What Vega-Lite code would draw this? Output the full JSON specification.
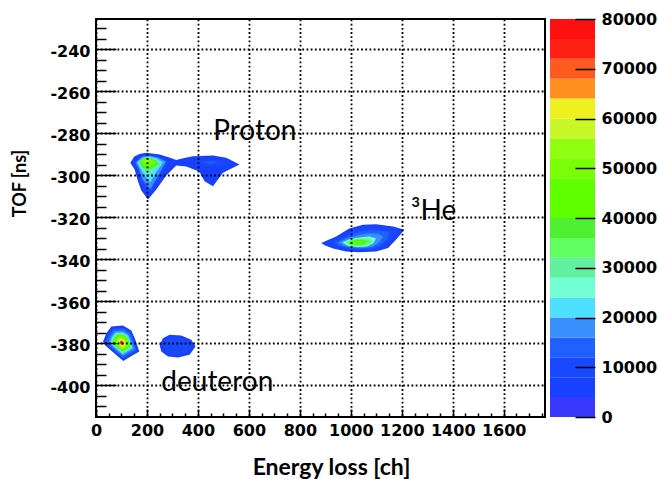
{
"$schema":"https://vega.github.io/schema/vega-lite/v6.json",
"padding":{"left":10,"top":11,"right":0,"bottom":0},
"background":"white",
"config":{"view":{"stroke":null}},
"datasets":{
"contours":[
{"p":"P1","z":6000,"i":1,"x":134.6,"y":-293.95},{"p":"P1","z":6000,"i":2,"x":150.3,"y":-290.95},{"p":"P1","z":6000,"i":3,"x":171.1,"y":-289.76},{"p":"P1","z":6000,"i":4,"x":197.4,"y":-289.19},{"p":"P1","z":6000,"i":5,"x":249.5,"y":-290.0},{"p":"P1","z":6000,"i":6,"x":287.6,"y":-291.43},{"p":"P1","z":6000,"i":7,"x":315.0,"y":-292.62},{"p":"P1","z":6000,"i":8,"x":346.4,"y":-291.67},{"p":"P1","z":6000,"i":9,"x":380.5,"y":-290.81},{"p":"P1","z":6000,"i":10,"x":458.9,"y":-290.48},{"p":"P1","z":6000,"i":11,"x":511.1,"y":-291.57},{"p":"P1","z":6000,"i":12,"x":563.3,"y":-294.76},{"p":"P1","z":6000,"i":13,"x":498.2,"y":-298.71},{"p":"P1","z":6000,"i":14,"x":458.9,"y":-305.1},{"p":"P1","z":6000,"i":15,"x":426.0,"y":-302.71},{"p":"P1","z":6000,"i":16,"x":405.2,"y":-298.1},{"p":"P1","z":6000,"i":17,"x":354.2,"y":-295.71},{"p":"P1","z":6000,"i":18,"x":315.0,"y":-295.24},{"p":"P1","z":6000,"i":19,"x":275.8,"y":-300.0},{"p":"P1","z":6000,"i":20,"x":236.6,"y":-306.67},{"p":"P1","z":6000,"i":21,"x":204.0,"y":-311.43},{"p":"P1","z":6000,"i":22,"x":177.8,"y":-307.14},{"p":"P1","z":6000,"i":23,"x":164.8,"y":-302.71},{"p":"P1","z":6000,"i":24,"x":151.5,"y":-297.14},
{"p":"H1","z":6000,"i":1,"x":883.7,"y":-332.14},{"p":"H1","z":6000,"i":2,"x":915.0,"y":-330.48},{"p":"H1","z":6000,"i":3,"x":942.5,"y":-329.05},{"p":"H1","z":6000,"i":4,"x":993.5,"y":-325.24},{"p":"H1","z":6000,"i":5,"x":1048.4,"y":-323.48},{"p":"H1","z":6000,"i":6,"x":1099.3,"y":-323.19},{"p":"H1","z":6000,"i":7,"x":1166.0,"y":-324.29},{"p":"H1","z":6000,"i":8,"x":1210.3,"y":-325.86},{"p":"H1","z":6000,"i":9,"x":1177.8,"y":-330.48},{"p":"H1","z":6000,"i":10,"x":1146.4,"y":-334.52},{"p":"H1","z":6000,"i":11,"x":1099.3,"y":-336.19},{"p":"H1","z":6000,"i":12,"x":1032.7,"y":-336.52},{"p":"H1","z":6000,"i":13,"x":981.7,"y":-336.19},{"p":"H1","z":6000,"i":14,"x":930.7,"y":-334.76},{"p":"H1","z":6000,"i":15,"x":899.3,"y":-333.33},
{"p":"D1","z":6000,"i":1,"x":27.6,"y":-379.05},{"p":"D1","z":6000,"i":2,"x":40.5,"y":-375.24},{"p":"D1","z":6000,"i":3,"x":60.1,"y":-371.9},{"p":"D1","z":6000,"i":4,"x":106.0,"y":-371.43},{"p":"D1","z":6000,"i":5,"x":138.5,"y":-373.81},{"p":"D1","z":6000,"i":6,"x":154.2,"y":-378.1},{"p":"D1","z":6000,"i":7,"x":169.9,"y":-383.81},{"p":"D1","z":6000,"i":8,"x":142.5,"y":-385.71},{"p":"D1","z":6000,"i":9,"x":107.2,"y":-388.33},{"p":"D1","z":6000,"i":10,"x":68.0,"y":-384.29},{"p":"D1","z":6000,"i":11,"x":36.6,"y":-380.95},
{"p":"R1","z":6000,"i":1,"x":249.5,"y":-380.62},{"p":"R1","z":6000,"i":2,"x":262.9,"y":-377.48},{"p":"R1","z":6000,"i":3,"x":288.7,"y":-375.86},{"p":"R1","z":6000,"i":4,"x":334.6,"y":-376.19},{"p":"R1","z":6000,"i":5,"x":373.8,"y":-378.24},{"p":"R1","z":6000,"i":6,"x":390.7,"y":-381.43},{"p":"R1","z":6000,"i":7,"x":367.2,"y":-385.38},{"p":"R1","z":6000,"i":8,"x":321.7,"y":-386.67},{"p":"R1","z":6000,"i":9,"x":282.5,"y":-386.19},{"p":"R1","z":6000,"i":10,"x":256.2,"y":-383.81},
{"p":"P2","z":10000,"i":1,"x":146.4,"y":-293.81},{"p":"P2","z":10000,"i":2,"x":177.8,"y":-290.48},{"p":"P2","z":10000,"i":3,"x":205.2,"y":-290.0},{"p":"P2","z":10000,"i":4,"x":248.4,"y":-290.95},{"p":"P2","z":10000,"i":5,"x":287.6,"y":-292.86},{"p":"P2","z":10000,"i":6,"x":256.2,"y":-300.95},{"p":"P2","z":10000,"i":7,"x":209.1,"y":-309.05},{"p":"P2","z":10000,"i":8,"x":173.8,"y":-302.86},{"p":"P2","z":10000,"i":9,"x":158.2,"y":-296.19},
{"p":"PR2","z":10000,"i":1,"x":381.7,"y":-293.33},{"p":"PR2","z":10000,"i":2,"x":432.7,"y":-292.14},{"p":"PR2","z":10000,"i":3,"x":499.3,"y":-292.86},{"p":"PR2","z":10000,"i":4,"x":530.7,"y":-294.29},{"p":"PR2","z":10000,"i":5,"x":460.1,"y":-295.71},{"p":"PR2","z":10000,"i":6,"x":405.2,"y":-295.24},
{"p":"H2","z":10000,"i":1,"x":907.2,"y":-332.14},{"p":"H2","z":10000,"i":2,"x":954.2,"y":-329.52},{"p":"H2","z":10000,"i":3,"x":1001.3,"y":-326.19},{"p":"H2","z":10000,"i":4,"x":1048.4,"y":-324.76},{"p":"H2","z":10000,"i":5,"x":1103.3,"y":-324.52},{"p":"H2","z":10000,"i":6,"x":1158.2,"y":-325.24},{"p":"H2","z":10000,"i":7,"x":1189.5,"y":-326.43},{"p":"H2","z":10000,"i":8,"x":1162.1,"y":-330.48},{"p":"H2","z":10000,"i":9,"x":1130.7,"y":-333.81},{"p":"H2","z":10000,"i":10,"x":1087.6,"y":-335.48},{"p":"H2","z":10000,"i":11,"x":1032.7,"y":-335.71},{"p":"H2","z":10000,"i":12,"x":981.7,"y":-335.24},{"p":"H2","z":10000,"i":13,"x":938.6,"y":-334.05},
{"p":"R2","z":10000,"i":1,"x":263.4,"y":-380.78},{"p":"R2","z":10000,"i":2,"x":274.1,"y":-378.27},{"p":"R2","z":10000,"i":3,"x":294.7,"y":-376.97},{"p":"R2","z":10000,"i":4,"x":331.5,"y":-377.24},{"p":"R2","z":10000,"i":5,"x":362.8,"y":-378.88},{"p":"R2","z":10000,"i":6,"x":376.3,"y":-381.43},{"p":"R2","z":10000,"i":7,"x":357.5,"y":-384.59},{"p":"R2","z":10000,"i":8,"x":321.1,"y":-385.62},{"p":"R2","z":10000,"i":9,"x":289.8,"y":-385.24},{"p":"R2","z":10000,"i":10,"x":268.7,"y":-383.33},
{"p":"PR3","z":14000,"i":1,"x":420.9,"y":-293.81},{"p":"PR3","z":14000,"i":2,"x":448.4,"y":-293.1},{"p":"PR3","z":14000,"i":3,"x":475.8,"y":-293.57},{"p":"PR3","z":14000,"i":4,"x":448.4,"y":-294.52},
{"p":"H3","z":14000,"i":1,"x":934.6,"y":-332.14},{"p":"H3","z":14000,"i":2,"x":969.9,"y":-330.0},{"p":"H3","z":14000,"i":3,"x":1009.2,"y":-327.62},{"p":"H3","z":14000,"i":4,"x":1052.3,"y":-326.19},{"p":"H3","z":14000,"i":5,"x":1103.3,"y":-326.19},{"p":"H3","z":14000,"i":6,"x":1150.3,"y":-326.67},{"p":"H3","z":14000,"i":7,"x":1142.5,"y":-330.48},{"p":"H3","z":14000,"i":8,"x":1115.0,"y":-333.33},{"p":"H3","z":14000,"i":9,"x":1079.7,"y":-334.76},{"p":"H3","z":14000,"i":10,"x":1032.7,"y":-335.0},{"p":"H3","z":14000,"i":11,"x":985.6,"y":-334.52},{"p":"H3","z":14000,"i":12,"x":954.2,"y":-333.57},
{"p":"D2","z":14000,"i":1,"x":38.7,"y":-379.16},{"p":"D2","z":14000,"i":2,"x":49.6,"y":-375.92},{"p":"D2","z":14000,"i":3,"x":66.3,"y":-373.08},{"p":"D2","z":14000,"i":4,"x":105.3,"y":-372.68},{"p":"D2","z":14000,"i":5,"x":132.9,"y":-374.7},{"p":"D2","z":14000,"i":6,"x":146.3,"y":-378.35},{"p":"D2","z":14000,"i":7,"x":159.6,"y":-383.2},{"p":"D2","z":14000,"i":8,"x":136.3,"y":-384.82},{"p":"D2","z":14000,"i":9,"x":106.3,"y":-387.04},{"p":"D2","z":14000,"i":10,"x":73.0,"y":-383.61},{"p":"D2","z":14000,"i":11,"x":46.3,"y":-380.77},
{"p":"P3","z":18000,"i":1,"x":154.2,"y":-293.81},{"p":"P3","z":18000,"i":2,"x":181.7,"y":-290.95},{"p":"P3","z":18000,"i":3,"x":205.2,"y":-290.48},{"p":"P3","z":18000,"i":4,"x":244.4,"y":-291.43},{"p":"P3","z":18000,"i":5,"x":275.8,"y":-293.33},{"p":"P3","z":18000,"i":6,"x":244.4,"y":-300.0},{"p":"P3","z":18000,"i":7,"x":213.1,"y":-306.67},{"p":"P3","z":18000,"i":8,"x":181.7,"y":-301.9},{"p":"P3","z":18000,"i":9,"x":166.0,"y":-296.19},
{"p":"H4","z":18000,"i":1,"x":950.3,"y":-331.9},{"p":"H4","z":18000,"i":2,"x":985.6,"y":-330.0},{"p":"H4","z":18000,"i":3,"x":1024.8,"y":-328.57},{"p":"H4","z":18000,"i":4,"x":1064.0,"y":-327.62},{"p":"H4","z":18000,"i":5,"x":1103.3,"y":-327.62},{"p":"H4","z":18000,"i":6,"x":1126.8,"y":-329.05},{"p":"H4","z":18000,"i":7,"x":1111.1,"y":-331.9},{"p":"H4","z":18000,"i":8,"x":1087.6,"y":-333.81},{"p":"H4","z":18000,"i":9,"x":1048.4,"y":-334.52},{"p":"H4","z":18000,"i":10,"x":1001.3,"y":-334.29},{"p":"H4","z":18000,"i":11,"x":969.9,"y":-333.33},
{"p":"D3","z":18000,"i":1,"x":48.2,"y":-379.25},{"p":"D3","z":18000,"i":2,"x":57.5,"y":-376.51},{"p":"D3","z":18000,"i":3,"x":71.6,"y":-374.1},{"p":"D3","z":18000,"i":4,"x":104.7,"y":-373.76},{"p":"D3","z":18000,"i":5,"x":128.1,"y":-375.48},{"p":"D3","z":18000,"i":6,"x":139.4,"y":-378.56},{"p":"D3","z":18000,"i":7,"x":150.7,"y":-382.68},{"p":"D3","z":18000,"i":8,"x":131.0,"y":-384.04},{"p":"D3","z":18000,"i":9,"x":105.5,"y":-385.93},{"p":"D3","z":18000,"i":10,"x":77.3,"y":-383.02},{"p":"D3","z":18000,"i":11,"x":54.7,"y":-380.62},
{"p":"P4","z":22000,"i":1,"x":162.1,"y":-293.81},{"p":"P4","z":22000,"i":2,"x":185.6,"y":-291.43},{"p":"P4","z":22000,"i":3,"x":209.1,"y":-290.95},{"p":"P4","z":22000,"i":4,"x":240.5,"y":-291.9},{"p":"P4","z":22000,"i":5,"x":264.0,"y":-293.81},{"p":"P4","z":22000,"i":6,"x":232.7,"y":-299.05},{"p":"P4","z":22000,"i":7,"x":213.1,"y":-303.33},{"p":"P4","z":22000,"i":8,"x":189.5,"y":-300.0},{"p":"P4","z":22000,"i":9,"x":173.8,"y":-296.67},
{"p":"D4","z":22000,"i":1,"x":55.6,"y":-379.32},{"p":"D4","z":22000,"i":2,"x":63.6,"y":-376.96},{"p":"D4","z":22000,"i":3,"x":75.8,"y":-374.89},{"p":"D4","z":22000,"i":4,"x":104.2,"y":-374.6},{"p":"D4","z":22000,"i":5,"x":124.4,"y":-376.07},{"p":"D4","z":22000,"i":6,"x":134.1,"y":-378.73},{"p":"D4","z":22000,"i":7,"x":143.8,"y":-382.27},{"p":"D4","z":22000,"i":8,"x":126.8,"y":-383.45},{"p":"D4","z":22000,"i":9,"x":105.0,"y":-385.07},{"p":"D4","z":22000,"i":10,"x":80.7,"y":-382.57},{"p":"D4","z":22000,"i":11,"x":61.2,"y":-380.5},
{"p":"H5","z":26000,"i":1,"x":966.0,"y":-331.9},{"p":"H5","z":26000,"i":2,"x":997.4,"y":-330.24},{"p":"H5","z":26000,"i":3,"x":1032.7,"y":-329.52},{"p":"H5","z":26000,"i":4,"x":1071.9,"y":-329.05},{"p":"H5","z":26000,"i":5,"x":1099.3,"y":-330.0},{"p":"H5","z":26000,"i":6,"x":1087.6,"y":-332.38},{"p":"H5","z":26000,"i":7,"x":1064.0,"y":-333.81},{"p":"H5","z":26000,"i":8,"x":1024.8,"y":-334.05},{"p":"H5","z":26000,"i":9,"x":989.5,"y":-333.57},
{"p":"P5","z":30000,"i":1,"x":166.0,"y":-293.33},{"p":"P5","z":30000,"i":2,"x":189.5,"y":-291.43},{"p":"P5","z":30000,"i":3,"x":213.1,"y":-291.43},{"p":"P5","z":30000,"i":4,"x":236.6,"y":-292.38},{"p":"P5","z":30000,"i":5,"x":252.3,"y":-294.29},{"p":"P5","z":30000,"i":6,"x":224.8,"y":-297.62},{"p":"P5","z":30000,"i":7,"x":205.2,"y":-299.52},{"p":"P5","z":30000,"i":8,"x":185.6,"y":-297.62},{"p":"P5","z":30000,"i":9,"x":173.8,"y":-295.71},
{"p":"H6","z":34000,"i":1,"x":977.8,"y":-331.9},{"p":"H6","z":34000,"i":2,"x":1005.2,"y":-330.48},{"p":"H6","z":34000,"i":3,"x":1040.5,"y":-330.0},{"p":"H6","z":34000,"i":4,"x":1071.9,"y":-330.24},{"p":"H6","z":34000,"i":5,"x":1083.6,"y":-331.43},{"p":"H6","z":34000,"i":6,"x":1064.0,"y":-333.1},{"p":"H6","z":34000,"i":7,"x":1028.8,"y":-333.57},{"p":"H6","z":34000,"i":8,"x":997.4,"y":-333.33},
{"p":"D5","z":34000,"i":1,"x":60.8,"y":-379.37},{"p":"D5","z":34000,"i":2,"x":67.9,"y":-377.27},{"p":"D5","z":34000,"i":3,"x":78.6,"y":-375.44},{"p":"D5","z":34000,"i":4,"x":103.9,"y":-375.18},{"p":"D5","z":34000,"i":5,"x":121.8,"y":-376.49},{"p":"D5","z":34000,"i":6,"x":130.4,"y":-378.85},{"p":"D5","z":34000,"i":7,"x":139.0,"y":-381.99},{"p":"D5","z":34000,"i":8,"x":124.0,"y":-383.03},{"p":"D5","z":34000,"i":9,"x":104.5,"y":-384.47},{"p":"D5","z":34000,"i":10,"x":83.0,"y":-382.25},{"p":"D5","z":34000,"i":11,"x":65.7,"y":-380.41},
{"p":"P6","z":38000,"i":1,"x":169.9,"y":-293.33},{"p":"P6","z":38000,"i":2,"x":193.5,"y":-291.43},{"p":"P6","z":38000,"i":3,"x":217.0,"y":-291.9},{"p":"P6","z":38000,"i":4,"x":236.6,"y":-292.86},{"p":"P6","z":38000,"i":5,"x":244.4,"y":-294.76},{"p":"P6","z":38000,"i":6,"x":220.9,"y":-296.67},{"p":"P6","z":38000,"i":7,"x":201.3,"y":-297.14},{"p":"P6","z":38000,"i":8,"x":181.7,"y":-296.19},
{"p":"H7","z":38000,"i":1,"x":989.5,"y":-331.9},{"p":"H7","z":38000,"i":2,"x":1013.0,"y":-330.71},{"p":"H7","z":38000,"i":3,"x":1044.4,"y":-330.48},{"p":"H7","z":38000,"i":4,"x":1064.0,"y":-330.95},{"p":"H7","z":38000,"i":5,"x":1056.2,"y":-332.62},{"p":"H7","z":38000,"i":6,"x":1028.8,"y":-333.1},{"p":"H7","z":38000,"i":7,"x":1001.3,"y":-332.86},
{"p":"D6","z":38000,"i":1,"x":65.9,"y":-379.42},{"p":"D6","z":38000,"i":2,"x":72.1,"y":-377.59},{"p":"D6","z":38000,"i":3,"x":81.5,"y":-375.99},{"p":"D6","z":38000,"i":4,"x":103.6,"y":-375.76},{"p":"D6","z":38000,"i":5,"x":119.2,"y":-376.9},{"p":"D6","z":38000,"i":6,"x":126.7,"y":-378.96},{"p":"D6","z":38000,"i":7,"x":134.2,"y":-381.7},{"p":"D6","z":38000,"i":8,"x":121.1,"y":-382.62},{"p":"D6","z":38000,"i":9,"x":104.1,"y":-383.87},{"p":"D6","z":38000,"i":10,"x":85.3,"y":-381.93},{"p":"D6","z":38000,"i":11,"x":70.2,"y":-380.33},
{"p":"H8","z":42000,"i":1,"x":1001.3,"y":-331.9},{"p":"H8","z":42000,"i":2,"x":1020.9,"y":-331.19},{"p":"H8","z":42000,"i":3,"x":1044.4,"y":-331.19},{"p":"H8","z":42000,"i":4,"x":1048.4,"y":-331.9},{"p":"H8","z":42000,"i":5,"x":1028.8,"y":-332.62},{"p":"H8","z":42000,"i":6,"x":1009.2,"y":-332.62},
{"p":"D7","z":42000,"i":1,"x":70.3,"y":-379.46},{"p":"D7","z":42000,"i":2,"x":75.8,"y":-377.86},{"p":"D7","z":42000,"i":3,"x":84.0,"y":-376.46},{"p":"D7","z":42000,"i":4,"x":103.3,"y":-376.26},{"p":"D7","z":42000,"i":5,"x":116.9,"y":-377.26},{"p":"D7","z":42000,"i":6,"x":123.5,"y":-379.06},{"p":"D7","z":42000,"i":7,"x":130.1,"y":-381.46},{"p":"D7","z":42000,"i":8,"x":118.6,"y":-382.26},{"p":"D7","z":42000,"i":9,"x":103.8,"y":-383.36},{"p":"D7","z":42000,"i":10,"x":87.3,"y":-381.66},{"p":"D7","z":42000,"i":11,"x":74.1,"y":-380.26},
{"p":"P7","z":46000,"i":1,"x":173.8,"y":-293.33},{"p":"P7","z":46000,"i":2,"x":197.4,"y":-291.9},{"p":"P7","z":46000,"i":3,"x":220.9,"y":-292.38},{"p":"P7","z":46000,"i":4,"x":236.6,"y":-293.81},{"p":"P7","z":46000,"i":5,"x":217.0,"y":-295.71},{"p":"P7","z":46000,"i":6,"x":193.5,"y":-295.71},{"p":"P7","z":46000,"i":7,"x":181.7,"y":-294.76},
{"p":"D8","z":50000,"i":1,"x":74.8,"y":-379.5},{"p":"D8","z":50000,"i":2,"x":79.4,"y":-378.13},{"p":"D8","z":50000,"i":3,"x":86.5,"y":-376.93},{"p":"D8","z":50000,"i":4,"x":103.0,"y":-376.76},{"p":"D8","z":50000,"i":5,"x":114.7,"y":-377.62},{"p":"D8","z":50000,"i":6,"x":120.3,"y":-379.16},{"p":"D8","z":50000,"i":7,"x":126.0,"y":-381.22},{"p":"D8","z":50000,"i":8,"x":116.1,"y":-381.9},{"p":"D8","z":50000,"i":9,"x":103.4,"y":-382.85},{"p":"D8","z":50000,"i":10,"x":89.3,"y":-381.39},{"p":"D8","z":50000,"i":11,"x":78.0,"y":-380.19},
{"p":"P8","z":50000,"i":1,"x":181.7,"y":-292.86},{"p":"P8","z":50000,"i":2,"x":201.3,"y":-291.9},{"p":"P8","z":50000,"i":3,"x":224.8,"y":-292.86},{"p":"P8","z":50000,"i":4,"x":224.8,"y":-294.29},{"p":"P8","z":50000,"i":5,"x":205.2,"y":-294.76},{"p":"P8","z":50000,"i":6,"x":189.5,"y":-294.29},
{"p":"D9","z":54000,"i":1,"x":79.2,"y":-379.55},{"p":"D9","z":54000,"i":2,"x":83.1,"y":-378.4},{"p":"D9","z":54000,"i":3,"x":88.9,"y":-377.4},{"p":"D9","z":54000,"i":4,"x":102.7,"y":-377.26},{"p":"D9","z":54000,"i":5,"x":112.5,"y":-377.97},{"p":"D9","z":54000,"i":6,"x":117.2,"y":-379.26},{"p":"D9","z":54000,"i":7,"x":121.9,"y":-380.98},{"p":"D9","z":54000,"i":8,"x":113.7,"y":-381.55},{"p":"D9","z":54000,"i":9,"x":103.1,"y":-382.33},{"p":"D9","z":54000,"i":10,"x":91.3,"y":-381.12},{"p":"D9","z":54000,"i":11,"x":81.9,"y":-380.12},
{"p":"P9","z":54000,"i":1,"x":189.5,"y":-292.86},{"p":"P9","z":54000,"i":2,"x":205.2,"y":-292.38},{"p":"P9","z":54000,"i":3,"x":217.0,"y":-293.33},{"p":"P9","z":54000,"i":4,"x":205.2,"y":-293.81},{"p":"P9","z":54000,"i":5,"x":193.5,"y":-293.81},
{"p":"D10","z":58000,"i":1,"x":83.6,"y":-379.59},{"p":"D10","z":58000,"i":2,"x":86.7,"y":-378.68},{"p":"D10","z":58000,"i":3,"x":91.4,"y":-377.87},{"p":"D10","z":58000,"i":4,"x":102.4,"y":-377.76},{"p":"D10","z":58000,"i":5,"x":110.2,"y":-378.33},{"p":"D10","z":58000,"i":6,"x":114.0,"y":-379.36},{"p":"D10","z":58000,"i":7,"x":117.8,"y":-380.73},{"p":"D10","z":58000,"i":8,"x":111.2,"y":-381.19},{"p":"D10","z":58000,"i":9,"x":102.7,"y":-381.82},{"p":"D10","z":58000,"i":10,"x":93.3,"y":-380.85},{"p":"D10","z":58000,"i":11,"x":85.8,"y":-380.05},
{"p":"D11","z":62000,"i":1,"x":88.0,"y":-379.63},{"p":"D11","z":62000,"i":2,"x":90.4,"y":-378.95},{"p":"D11","z":62000,"i":3,"x":93.9,"y":-378.35},{"p":"D11","z":62000,"i":4,"x":102.1,"y":-378.26},{"p":"D11","z":62000,"i":5,"x":108.0,"y":-378.69},{"p":"D11","z":62000,"i":6,"x":110.8,"y":-379.46},{"p":"D11","z":62000,"i":7,"x":113.6,"y":-380.49},{"p":"D11","z":62000,"i":8,"x":108.7,"y":-380.83},{"p":"D11","z":62000,"i":9,"x":102.4,"y":-381.3},{"p":"D11","z":62000,"i":10,"x":95.3,"y":-380.58},{"p":"D11","z":62000,"i":11,"x":89.7,"y":-379.97},
{"p":"D12","z":68000,"i":1,"x":91.7,"y":-379.67},{"p":"D12","z":68000,"i":2,"x":93.4,"y":-379.17},{"p":"D12","z":68000,"i":3,"x":95.9,"y":-378.74},{"p":"D12","z":68000,"i":4,"x":101.9,"y":-378.68},{"p":"D12","z":68000,"i":5,"x":106.1,"y":-378.99},{"p":"D12","z":68000,"i":6,"x":108.2,"y":-379.54},{"p":"D12","z":68000,"i":7,"x":110.2,"y":-380.29},{"p":"D12","z":68000,"i":8,"x":106.7,"y":-380.53},{"p":"D12","z":68000,"i":9,"x":102.1,"y":-380.87},{"p":"D12","z":68000,"i":10,"x":97.0,"y":-380.35},{"p":"D12","z":68000,"i":11,"x":92.9,"y":-379.91},
{"p":"D13","z":78000,"i":1,"x":94.7,"y":-379.7},{"p":"D13","z":78000,"i":2,"x":95.8,"y":-379.35},{"p":"D13","z":78000,"i":3,"x":97.6,"y":-379.05},{"p":"D13","z":78000,"i":4,"x":101.7,"y":-379.01},{"p":"D13","z":78000,"i":5,"x":104.6,"y":-379.22},{"p":"D13","z":78000,"i":6,"x":106.1,"y":-379.61},{"p":"D13","z":78000,"i":7,"x":107.5,"y":-380.12},{"p":"D13","z":78000,"i":8,"x":105.0,"y":-380.3},{"p":"D13","z":78000,"i":9,"x":101.8,"y":-380.53},{"p":"D13","z":78000,"i":10,"x":98.3,"y":-380.17},{"p":"D13","z":78000,"i":11,"x":95.5,"y":-379.87}
],
"labels":[
{"label":"Proton","x":623,"y":-283.3},
{"label":"³He","x":1325,"y":-321},
{"label":"deuteron","x":476,"y":-402.7}
],
"bands":[
{"lo":0,"hi":4000,"z":2000},{"lo":4000,"hi":8000,"z":6000},{"lo":8000,"hi":12000,"z":10000},{"lo":12000,"hi":16000,"z":14000},{"lo":16000,"hi":20000,"z":18000},{"lo":20000,"hi":24000,"z":22000},{"lo":24000,"hi":28000,"z":26000},{"lo":28000,"hi":32000,"z":30000},{"lo":32000,"hi":36000,"z":34000},{"lo":36000,"hi":40000,"z":38000},{"lo":40000,"hi":44000,"z":42000},{"lo":44000,"hi":48000,"z":46000},{"lo":48000,"hi":52000,"z":50000},{"lo":52000,"hi":56000,"z":54000},{"lo":56000,"hi":60000,"z":58000},{"lo":60000,"hi":64000,"z":62000},{"lo":64000,"hi":68000,"z":66000},{"lo":68000,"hi":72000,"z":70000},{"lo":72000,"hi":76000,"z":74000},{"lo":76000,"hi":80000,"z":78000}
]
},
"spacing":4,
"hconcat":[
{
"width":449,"height":398,
"view":{"stroke":"black","strokeWidth":2},
"resolve":{"axis":{"x":"independent","y":"independent"}},
"layer":[
{
"data":{"name":"contours"},
"mark":{"type":"line","filled":true,"interpolate":"linear-closed","strokeWidth":0},
"encoding":{
"x":{"field":"x","type":"quantitative","scale":{"domain":[0,1762],"nice":false,"zero":false},
"axis":{"orient":"bottom","values":[0,200,400,600,800,1000,1200,1400,1600],
"labelExpr":"'' + datum.value",
"tickSize":-8,
"grid":true,"gridColor":"black","gridDash":[1.8,2.4],"gridWidth":1.8,
"domain":false,"tickColor":"black","tickWidth":1.5,
"labelFont":"DejaVu Sans","labelFontWeight":"bold","labelFontSize":16,"labelColor":"black","labelPadding":13,"labelOverlap":false,"labelFlush":false,
"title":"Energy loss [ch]","titleFont":"Lato","titleFontSize":23,"titleFontWeight":"bold","titleColor":"black",
"titleX":235,"titleY":50,"titleAlign":"center","titleBaseline":"middle","zindex":1}},
"y":{"field":"y","type":"quantitative","scale":{"domain":[-415,-225.5],"nice":false,"zero":false},
"axis":{"orient":"left","values":[-400,-380,-360,-340,-320,-300,-280,-260,-240],
"labelExpr":"'' + datum.value",
"tickSize":-20,
"grid":true,"gridColor":"black","gridDash":[1.8,2.4],"gridWidth":1.8,
"domain":false,"tickColor":"black","tickWidth":1.5,
"labelFont":"DejaVu Sans","labelFontWeight":"bold","labelFontSize":16,"labelColor":"black","labelPadding":26,"labelOverlap":false,"labelFlush":false,"labelOffset":2,
"title":"TOF [ns]","titleFont":"Lato","titleFontSize":18,"titleFontWeight":"bold","titleColor":"black",
"titleX":-76,"titleY":164,"titleAngle":-90,"titleAlign":"center","titleBaseline":"middle","zindex":1}},
"detail":{"field":"p"},
"order":{"field":"i","type":"quantitative"},
"color":{"field":"z","type":"quantitative","legend":null,
"scale":{"type":"threshold","domain":[4000,8000,12000,16000,20000,24000,28000,32000,36000,40000,44000,48000,52000,56000,60000,64000,68000,72000,76000],
"range":["#3838ff","#1840ff","#1848ff","#2060ff","#3890ff","#50e0ff","#70ffd0","#60f0a0","#60ff60","#50f030","#60ff00","#60ff00","#78ff08","#90ff10","#c8f828","#eef020","#ff9020","#ff5a20","#ff2015","#ff1010"]}}
}
},
{
"data":{"name":"labels"},
"mark":{"type":"text","font":"Lato","fontSize":28,"align":"center","baseline":"alphabetic","color":"black"},
"encoding":{
"x":{"field":"x","type":"quantitative",
"axis":{"orient":"bottom","values":[50,100,150,250,300,350,450,500,550,650,700,750,850,900,950,1050,1100,1150,1250,1300,1350,1450,1500,1550,1650,1700,1750],
"tickSize":-4,"tickColor":"black","tickWidth":1.5,"labels":false,"grid":false,"domain":false,"title":null,"zindex":1}},
"y":{"field":"y","type":"quantitative",
"axis":{"orient":"left","values":[-410,-405,-395,-390,-385,-375,-370,-365,-355,-350,-345,-335,-330,-325,-315,-310,-305,-295,-290,-285,-275,-270,-265,-255,-250,-245,-235,-230],
"tickSize":-10,"tickColor":"black","tickWidth":1.5,"labels":false,"grid":false,"domain":false,"title":null,"zindex":1}},
"text":{"field":"label"}
}
}
]
},
{
"width":45,"height":398,
"view":{"stroke":null},
"data":{"name":"bands"},
"mark":{"type":"rect"},
"encoding":{
"y":{"field":"lo","type":"quantitative","scale":{"domain":[0,80000],"nice":false,"zero":false},
"axis":{"orient":"right","values":[0,10000,20000,30000,40000,50000,60000,70000,80000],"labelExpr":"'' + datum.value",
"tickSize":-20,"tickColor":"black","tickWidth":1.5,"domain":false,"grid":false,
"labelFont":"DejaVu Sans","labelFontWeight":"bold","labelFontSize":16,"labelColor":"black","labelPadding":26,"labelFlush":false,"labelOverlap":false,
"title":null,"zindex":1}},
"y2":{"field":"hi"},
"color":{"field":"z","type":"quantitative","legend":null,
"scale":{"type":"threshold","domain":[4000,8000,12000,16000,20000,24000,28000,32000,36000,40000,44000,48000,52000,56000,60000,64000,68000,72000,76000],
"range":["#3838ff","#1840ff","#1848ff","#2060ff","#3890ff","#50e0ff","#70ffd0","#60f0a0","#60ff60","#50f030","#60ff00","#60ff00","#78ff08","#90ff10","#c8f828","#eef020","#ff9020","#ff5a20","#ff2015","#ff1010"]}}
}
}
]
}
